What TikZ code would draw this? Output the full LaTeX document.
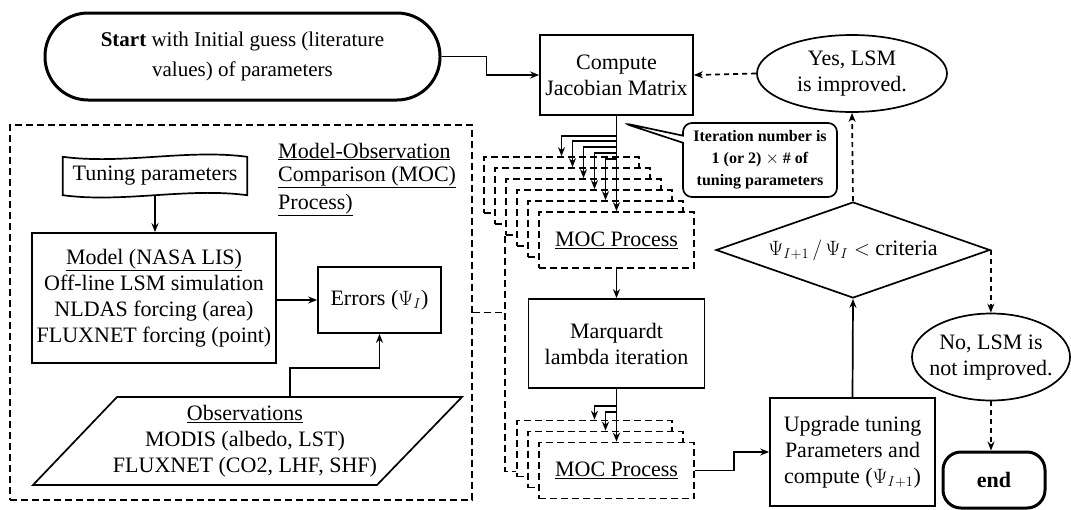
\documentclass[tikz,border=0pt]{standalone}
\usepackage{fontspec}
\setmainfont{Liberation Serif}
\usetikzlibrary{arrows.meta,shapes.geometric,shapes.callouts,calc}
\begin{document}
\begin{tikzpicture}[x=1pt,y=-1pt,
  every node/.style={font=\fontsize{22}{26}\selectfont, inner sep=2pt},
  box/.style={draw, line width=1.7pt, align=center},
  mocbox/.style={draw, line width=1.7pt, dash pattern=on 7pt off 4pt, fill=white,
    minimum width=155pt, minimum height=56pt},
  ell/.style={draw, ellipse, line width=1.7pt, inner sep=0pt},
  arr/.style={line width=1.7pt, -{Stealth[length=9pt,width=7pt]}},
  darr/.style={line width=1.7pt, dash pattern=on 5pt off 4pt, -{Stealth[length=9pt,width=7pt]}},
  dline/.style={line width=1.7pt, dash pattern=on 7pt off 4pt},
]
\useasboundingbox (0,0) rectangle (1071,509);

% start terminal
\node[draw, line width=3pt, rounded corners=43pt, minimum width=395pt, minimum height=87pt,
  align=center, font=\fontsize{21}{30}\selectfont] (start) at (242.5,56.5)
  {\textbf{Start} with Initial guess (literature\\values) of parameters};

% model-observation comparison frame
\node[dline, draw, minimum width=462pt, minimum height=375pt] (mocf) at (241,312.5) {};
\node[anchor=base west, inner sep=0pt] (t1) at (278,158) {\underline{Model-Observation}};
\node[anchor=base west, inner sep=0pt] (t2) at (278,181) {\underline{Comparison (MOC)}};
\node[anchor=base west, inner sep=0pt] (t3) at (278,209) {\underline{Process)}};

% tuning parameters (tape shape)
\node[minimum width=184pt, minimum height=38pt] (tun) at (155,176) {Tuning parameters};
\draw[line width=1.7pt] (tun.north west) .. controls +(60,8) and +(-60,-8) .. (tun.north east)
  -- (tun.south east) .. controls +(-60,-8) and +(60,8) .. (tun.south west) -- cycle;

\node[box, minimum width=244pt, minimum height=130pt] (model) at (154,298)
  {\underline{Model (NASA LIS)}\\Off-line LSM simulation\\NLDAS forcing (area)\\FLUXNET forcing (point)};
\node[box, minimum width=123pt, minimum height=66pt] (err) at (379.5,300) {Errors ($\Psi_{I}$)};

% observations (parallelogram)
\draw[line width=1.7pt] (33,485) -- (117,397) -- (462,397) -- (377,485) -- cycle;
\node[align=center] (obs) at (245,441)
  {\underline{Observations}\\MODIS (albedo, LST)\\FLUXNET (CO2, LHF, SHF)};
\coordinate (obstop) at (290,397);

% main column
\node[box, minimum width=153pt, minimum height=80pt] (jac) at (616.5,75) {Compute\\Jacobian Matrix};

\node[mocbox] (m1a) at (561.5,185) {};
\node[mocbox] (m1b) at (572.5,196) {};
\node[mocbox] (m1c) at (583.5,207) {};
\node[mocbox] (m1d) at (594.5,218) {};
\node[mocbox] (m1e) at (605.5,229) {};
\node[mocbox] (m1f) at (616.5,240) {\underline{MOC Process}};

\node[box, minimum width=176pt, minimum height=89pt] (marq) at (616.5,343.5) {Marquardt\\lambda iteration};

\node[mocbox] (m2a) at (594.5,448.5) {};
\node[mocbox] (m2b) at (605.5,459.5) {};
\node[mocbox] (m2c) at (616.5,470.5) {\underline{MOC Process}};

\node[box, minimum width=165pt, minimum height=108pt] (upg) at (852.5,452)
  {Upgrade tuning\\Parameters and\\compute ($\Psi_{I+1}$)};

\node[draw, diamond, line width=1.7pt, minimum width=274pt, minimum height=96pt,
  inner sep=0pt, aspect=2.85] (dia) at (853,250) {$\Psi_{I+1}\,/\,\Psi_{I} <$ criteria};

\node[ell, minimum width=190pt, minimum height=77pt] (yes) at (852,73.5)
  {\makebox[0pt]{\begin{tabular}{@{}c@{}}Yes, LSM\\is improved.\end{tabular}}};
\node[ell, minimum width=158pt, minimum height=87pt] (no) at (991,357)
  {\makebox[0pt]{\begin{tabular}{@{}c@{}}No, LSM is\\not improved.\end{tabular}}};

\node[draw, line width=3pt, rounded corners=18pt, minimum width=102pt, minimum height=56pt,
  font=\bfseries\fontsize{22}{26}\selectfont] (end) at (994,480) {end};

% note on the iteration count
\coordinate (tip) at ($(jac.south)+(6,7)$);
\node[rectangle callout, draw, line width=1.7pt, rounded corners=9pt, fill=white,
  minimum width=154pt, minimum height=74pt, callout absolute pointer={(tip)},
  align=center, inner sep=0pt, font=\bfseries\fontsize{16}{22}\selectfont] (call) at (760,160)
  {Iteration number is\\1 (or 2) $\times$ \# of\\tuning parameters};

% connectors
\draw[arr] (start.east) -- ++(45,0) |- (jac.west);
\draw[arr] (tun.south) -- (tun.south |- model.north);
\draw[arr] (model.east |- err.west) -- (err.west);
\draw[arr] (obstop) -- ++(0,-29) -| (err.south);

\draw[arr] (jac.south) -- ++(0,20) -| (m1a.north);
\draw[arr] (jac.south) -- ++(0,25) -| (m1b.north);
\draw[arr] (jac.south) -- ++(0,31) -| (m1c.north);
\draw[arr] (jac.south) -- ++(0,37) -| (m1d.north);
\draw[arr] (jac.south) -- ++(0,43) -| (m1e.north);
\draw[arr] (jac.south) -- (m1f.north);

\draw[arr] (m1f.south) -- (marq.north);
\draw[arr] (marq.south) -- ++(0,17) -| (m2a.north);
\draw[arr] (marq.south) -- ++(0,23) -| (m2b.north);
\draw[arr] (marq.south) -- (m2c.north);

\draw[arr] (m2c.east) -- ++(39,0) |- (upg.west);
\draw[arr] (upg.north) -- (dia.south);
\draw[darr] (dia.north) -- (yes.south);
\draw[darr] (yes.west) -- (jac.east);
\draw[darr] (dia.east) -- (dia.east |- no.north);
\draw[darr] (no.south) -- (no.south |- end.north);

% links from the comparison frame to the process stacks
\draw[dline] (mocf.east) -- (mocf.east -| m1c.south west);
\draw[dline] (m1c.south west) |- ($(m2a.south west)+(0,-6)$);
\end{tikzpicture}
\end{document}
